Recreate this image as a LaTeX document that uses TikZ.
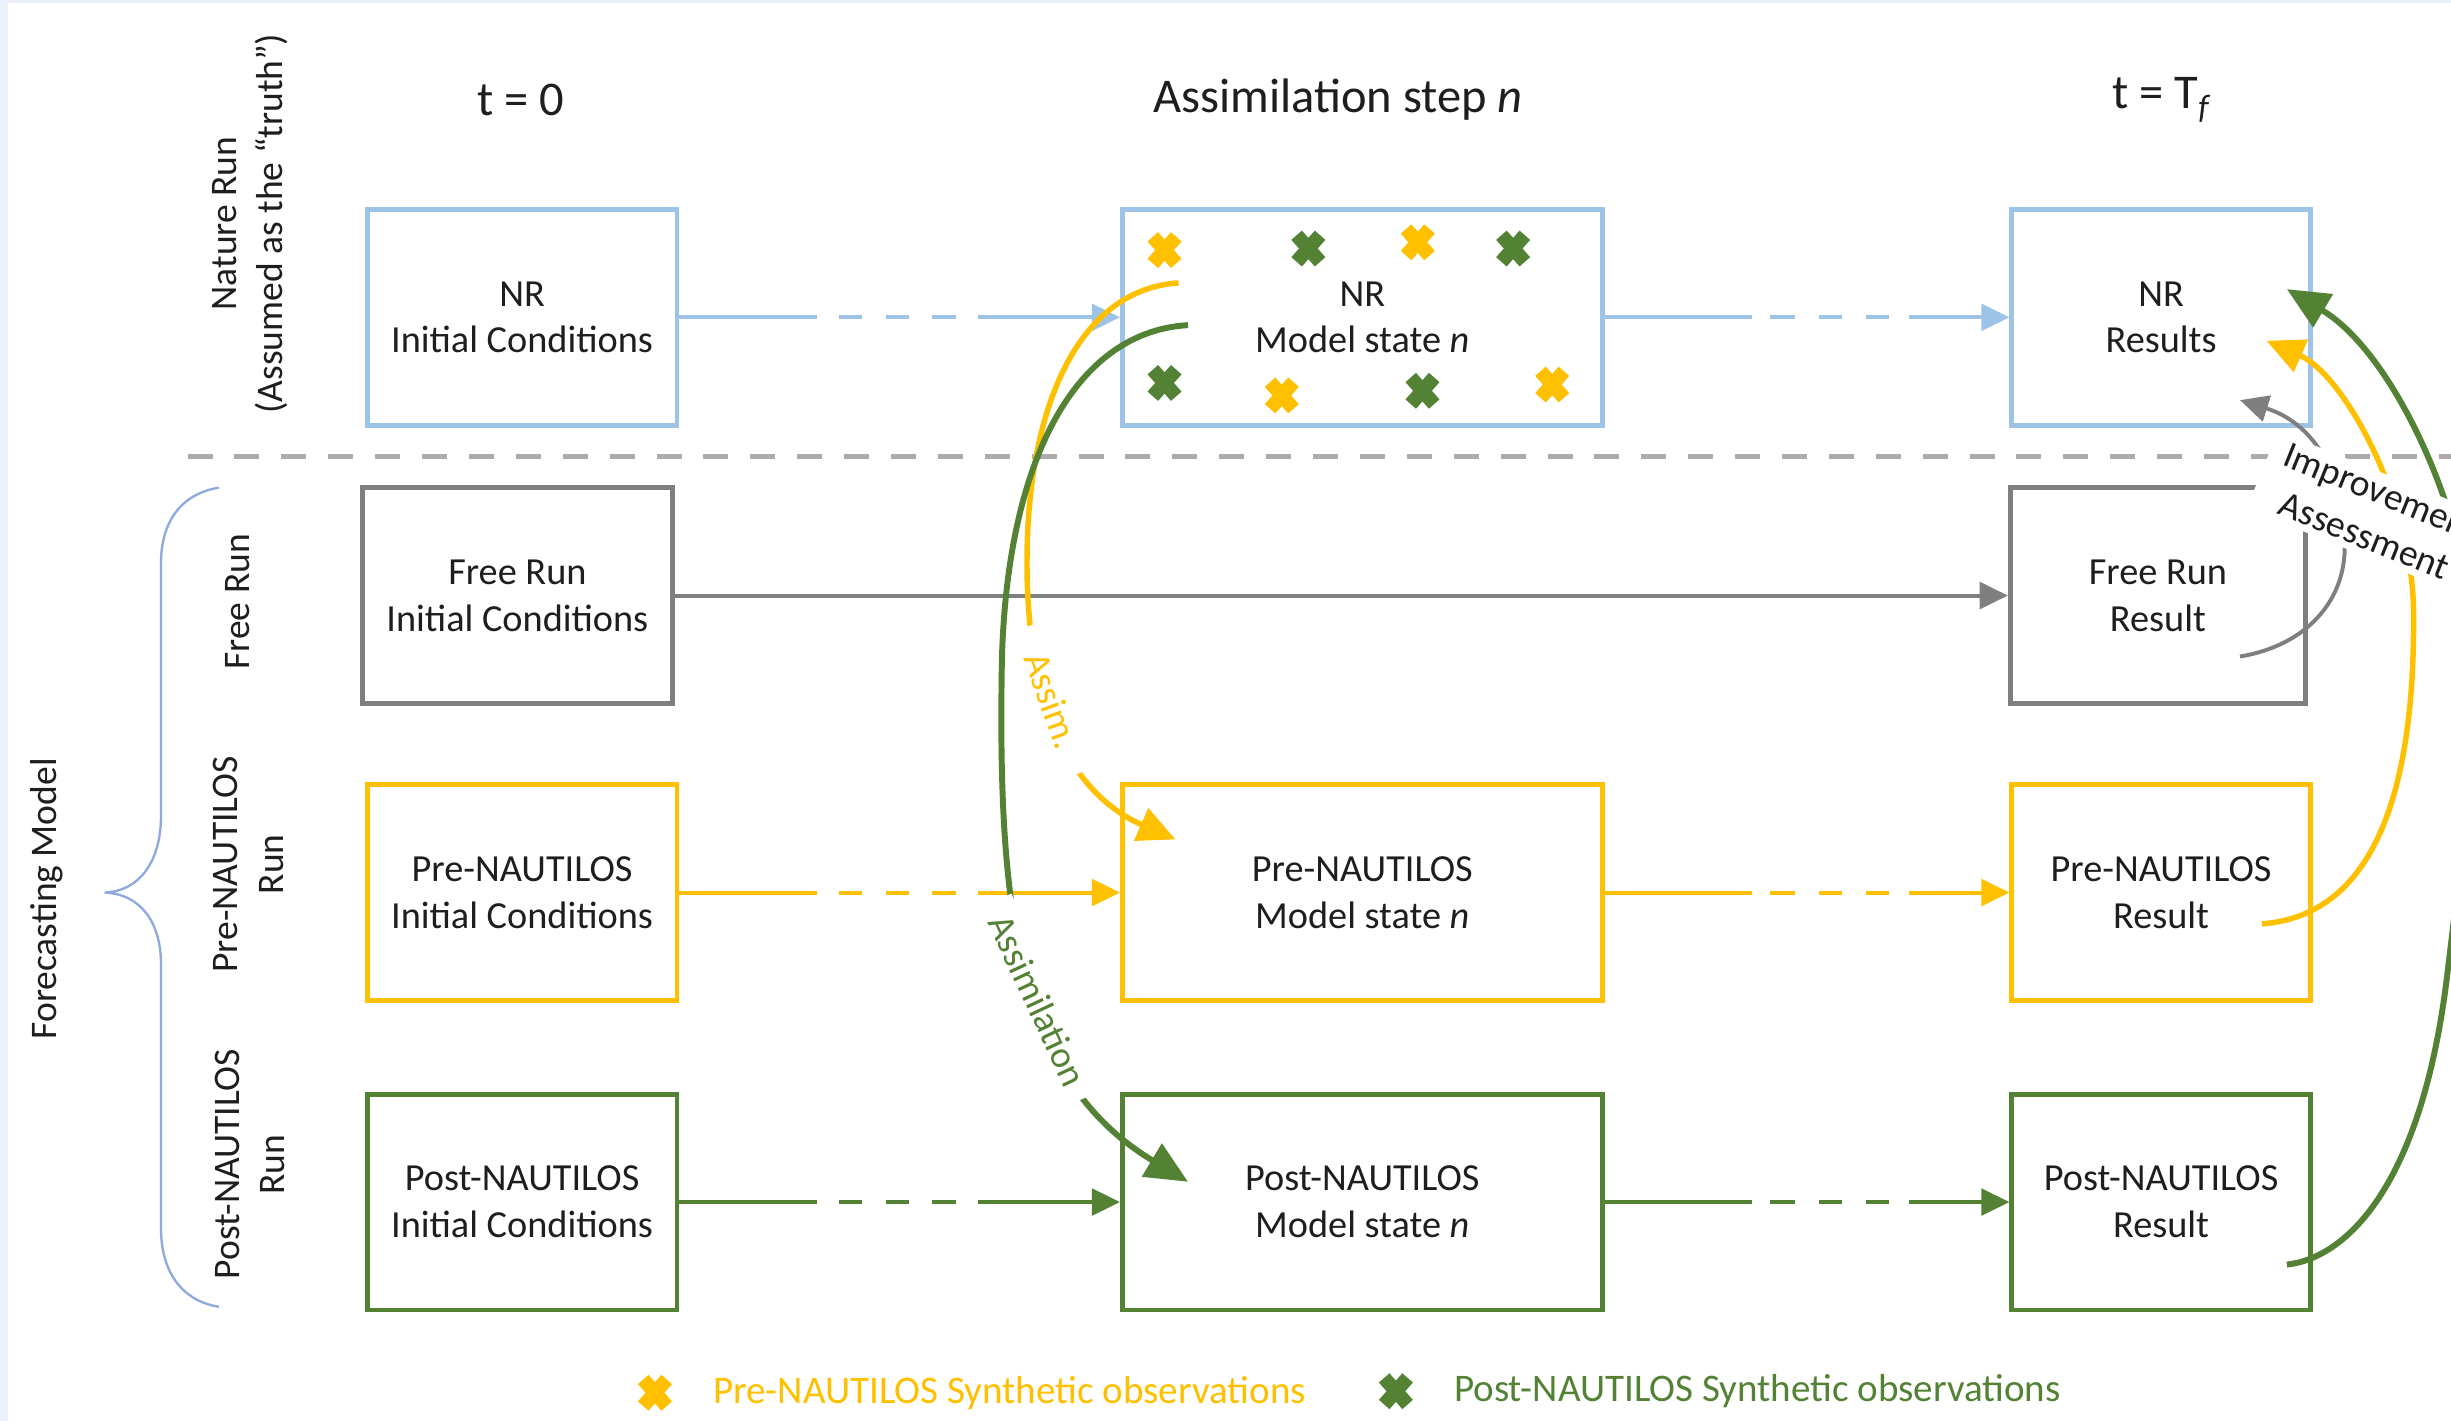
\documentclass[tikz,border=0pt]{standalone}
\usepackage{fontspec}
\setmainfont{Carlito}
\usetikzlibrary{arrows.meta}
\definecolor{cBlue}{HTML}{9DC3E6}
\definecolor{cGray}{HTML}{7F7F7F}
\definecolor{cYel}{HTML}{FFC000}
\definecolor{cGrn}{HTML}{548235}
\definecolor{cSep}{HTML}{AEAAAA}
\definecolor{cBrace}{HTML}{8FAADC}
\definecolor{cBg}{HTML}{EAF1FA}
\definecolor{cTxt}{HTML}{1E1E1E}
\begin{document}
\begin{tikzpicture}[x=1pt,y=-1pt,
  box/.style={draw, line width=3pt, minimum height=138pt, align=center,
    font=\fontsize{24.5}{30}\selectfont, text=cTxt, inner sep=0pt},
  arr/.style={line width=2.5pt, -{Triangle[length=18pt,width=17pt]}},
  carr/.style={line width=3.5pt, -{Triangle[length=24pt,width=22pt]}},
  garr/.style={line width=3.8pt, -{Triangle[length=27pt,width=24pt]}},
  brk/.style={dash pattern=on 88pt off 14pt on 15pt off 15pt on 15pt off 15pt on 15pt off 14pt on 900pt},
  brkR/.style={dash pattern=on 94pt off 12pt on 16pt off 15pt on 15pt off 15pt on 15pt off 13pt on 900pt},
  rlab/.style={rotate=90, align=center, font=\fontsize{24}{29}\selectfont, text=cTxt},
  hdr/.style={font=\fontsize{31}{37}\selectfont, text=cTxt},
  lbl/.style={fill=white, font=\fontsize{24}{30}\selectfont, inner xsep=10pt, inner ysep=5pt},
  obsx/.pic={\draw[line width=9pt] (-7.5,-8.5) -- (7.5,8.5) (-7.5,8.5) -- (7.5,-8.5);}
]
\useasboundingbox (0,0) rectangle (1568,909);
\clip (0,0) rectangle (1568,909);
\fill[cBg] (0,0) rectangle (1568,909);
\fill[white] (5,2) rectangle (1568,909);

% headers
\node[hdr] (h1) at (333,64) {t = 0};
\node[hdr] (h2) at (856,64) {Assimilation step \textit{n}};
\node[hdr] (h3) at (1383,64) {t = T\textsubscript{\textit{f}}};

% side labels
\node[rlab] (l1) at (160,143) {Nature Run\\(Assumed as the “truth”)};
\node[rlab] (l2) at (152,385) {Free Run};
\node[rlab] (l3) at (159,553) {Pre-NAUTILOS\\Run};
\node[rlab] (l4) at (160,745) {Post-NAUTILOS\\Run};
\node[rlab] (l5) at (30,575) {Forecasting Model};

% brace
\draw[cBrace, line width=1.5pt] (140,312) .. controls (115,316) and (103,335) .. (103,360)
  -- (103,522) .. controls (103,550) and (90,570) .. (67,571)
  .. controls (90,572) and (103,590) .. (103,617)
  -- (103,786) .. controls (103,812) and (115,832) .. (140,836);

% separator
\draw[cSep, line width=3.5pt, dash pattern=on 16pt off 14pt] (120,292) -- (1568,292);

% boxes
\node[box, draw=cBlue, minimum width=198pt] (nri) at (334,203) {NR\\Initial Conditions};
\node[box, draw=cGray, minimum width=198pt] (fri) at (331,381) {Free Run\\Initial Conditions};
\node[box, draw=cYel, minimum width=198pt] (pri) at (334,571) {Pre-NAUTILOS\\Initial Conditions};
\node[box, draw=cGrn, minimum width=198pt] (poi) at (334,769) {Post-NAUTILOS\\Initial Conditions};
\node[box, draw=cBlue, minimum width=307pt] (nrm) at (871.5,203) {NR\\Model state \textit{n}};
\node[box, draw=cYel, minimum width=307pt] (prm) at (871.5,571) {Pre-NAUTILOS\\Model state \textit{n}};
\node[box, draw=cGrn, minimum width=307pt] (pom) at (871.5,769) {Post-NAUTILOS\\Model state \textit{n}};
\node[box, draw=cBlue, minimum width=191pt] (nrr) at (1382.5,203) {NR\\Results};
\node[box, draw=cGray, minimum width=189pt] (frr) at (1380.5,381) {Free Run\\Result};
\node[box, draw=cYel, minimum width=191pt] (prr) at (1382.5,571) {Pre-NAUTILOS\\Result};
\node[box, draw=cGrn, minimum width=191pt] (por) at (1382.5,769) {Post-NAUTILOS\\Result};

% observations in NR box
\pic[color=cYel] at (745,160) {obsx};
\pic[color=cYel] at (907,155) {obsx};
\pic[color=cYel] at (820,253) {obsx};
\pic[color=cYel] at (993,246) {obsx};
\pic[color=cGrn] at (837,159) {obsx};
\pic[color=cGrn] at (968,159) {obsx};
\pic[color=cGrn] at (745,245) {obsx};
\pic[color=cGrn] at (910,250) {obsx};

% straight connectors
\draw[arr, cBlue, brk] (nri) -- (nrm);
\draw[arr, cBlue, brkR] (nrm) -- (nrr);
\draw[arr, cGray] (fri) -- (frr);
\draw[arr, cYel, brk] (pri) -- (prm);
\draw[arr, cYel, brkR] (prm) -- (prr);
\draw[arr, cGrn, brk] (poi) -- (pom);
\draw[arr, cGrn, brkR] (pom) -- (por);

% assimilation curves
\coordinate (ys) at (754,181);
\coordinate (ye) at (752,537);
\draw[carr, cYel] (ys) .. controls (690,185) and (657,260) .. (657,360)
  .. controls (657,460) and (690,510) .. (ye);
\coordinate (gs) at (760,208);
\coordinate (ge) at (760,756);
\draw[garr, cGrn] (gs) .. controls (690,212) and (645,290) .. (641,420)
  .. controls (638,580) and (650,690) .. (ge);

% improvement assessment curves
\coordinate (yrs) at (1447,591);
\coordinate (yre) at (1450,218);
\draw[carr, cYel] (yrs) .. controls (1530,585) and (1545,480) .. (1544,390)
  .. controls (1543,320) and (1500,240) .. (yre);
\coordinate (grs) at (1463,809);
\coordinate (gre) at (1463,185);
\draw[garr, cGrn] (grs) .. controls (1500,805) and (1550,760) .. (1566,620)
  .. controls (1576,540) and (1585,450) .. (1578,380)
  .. controls (1572,320) and (1530,225) .. (gre);
\coordinate (frs) at (1433,420);
\coordinate (fre) at (1433,256);
\draw[arr, cGray] (frs) .. controls (1475,413) and (1500,385) .. (1500,350)
  .. controls (1500,300) and (1478,270) .. (fre);

% labels over curves
\node[lbl, text=cYel, rotate=-70, inner xsep=18pt] (la) at (673,448) {Assim.};
\node[lbl, text=cGrn, rotate=-65] (lb) at (664,640) {Assimilation};
\node[lbl, text=cTxt, align=center, rotate=-22, inner ysep=4pt] (lc) at (1518,329) {Improvement\\Assessment};

% legend
\pic[color=cYel] at (419,891) {obsx};
\node[anchor=west, inner sep=0pt, text=cYel, font=\fontsize{25}{30}\selectfont] (lg1) at (456,891) {Pre-NAUTILOS Synthetic observations};
\pic[color=cGrn] at (893,890) {obsx};
\node[anchor=west, inner sep=0pt, text=cGrn, font=\fontsize{25}{30}\selectfont] (lg2) at (930,890) {Post-NAUTILOS Synthetic observations};
\end{tikzpicture}
\end{document}
